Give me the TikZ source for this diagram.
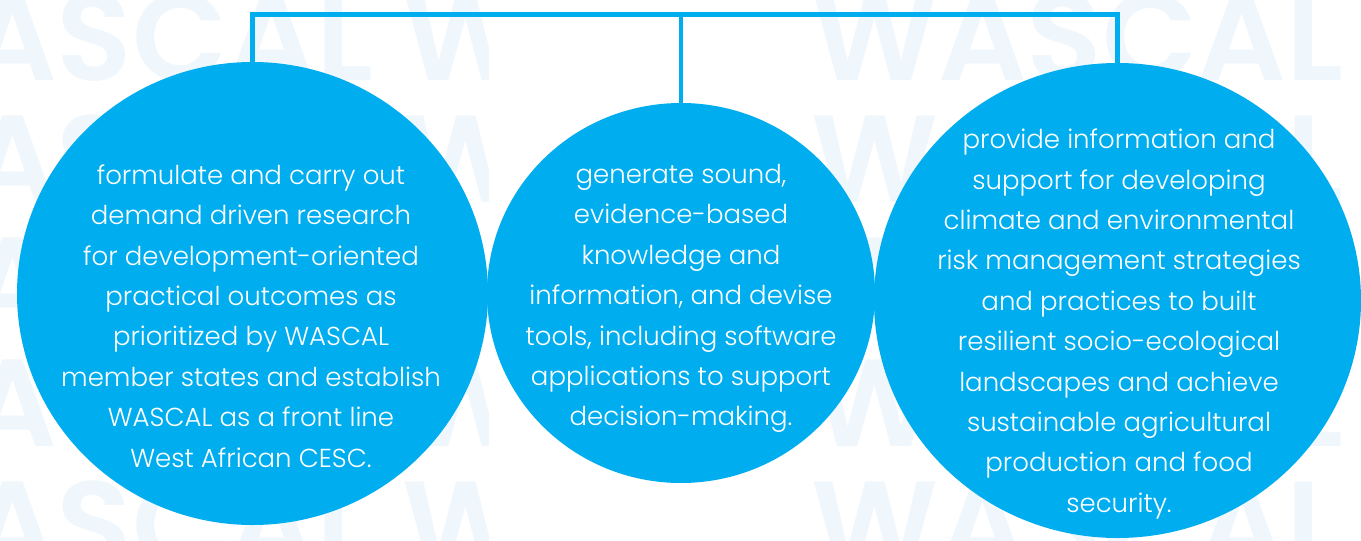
\documentclass[tikz,border=0pt]{standalone}
\usepackage{fontspec}
\usetikzlibrary{shapes.geometric}
\newfontfamily\bodyfont{Poppins Light}
\newfontfamily\wmfont{Poppins SemiBold}
\definecolor{wcyan}{HTML}{00AEEF}
\definecolor{wpale}{HTML}{EFF7FC}
\tikzset{
  bubble/.style={ellipse, fill=wcyan, draw=none, inner sep=0pt},
  conn/.style={draw=wcyan, line width=4.5pt, line join=miter},
  wm/.style={text=wpale, inner sep=0pt, font=\wmfont\fontsize{124}{124}\selectfont},
  txt/.style={text=white, align=center, inner sep=0pt, font=\bodyfont\fontsize{26}{40.4}\selectfont}
}
\begin{document}
\begin{tikzpicture}[x=1pt,y=-1pt]
\useasboundingbox (0,0) rectangle (1361,541);
\fill[white] (0,0) rectangle (1361,541);
% watermark
\begin{scope}
  \clip (0,0) rectangle (488,541);
  \foreach \r in {0,...,4}
    \node[wm, anchor=base west] (wmL\r) at (-159, 80+122*\r) {WASCAL W};
\end{scope}
\foreach \r in {0,...,4}
  \node[wm, anchor=base west] (wmR\r) at (811, 80+122*\r) {WASCAL};
% circles
\node[bubble, minimum width=471pt, minimum height=463pt] (c1) at (252.5,293.5) {};
\node[bubble, minimum width=388pt, minimum height=380pt] (c2) at (681,293) {};
\node[bubble, minimum width=487pt, minimum height=475pt] (c3) at (1117.5,300.5) {};
% connectors
\coordinate (bar) at (0,14.5);
\draw[conn] (c1.north) |- (c3.north |- bar) -- (c3.north);
\draw[conn] (c2.north) -- (c2.north |- bar);
% texts
\node[txt] (t1) at (251,316) {formulate and carry out\\demand driven research\\for development-oriented\\practical outcomes as\\prioritized by WASCAL\\member states and establish\\WASCAL as a front line\\West African CESC.};
\node[txt] (t2) at (681,298.5) {generate sound,\\evidence-based\\knowledge and\\information, and devise\\tools, including software\\applications to support\\decision-making.};
\node[txt] (t3) at (1119,324) {provide information and\\support for developing\\climate and environmental\\risk management strategies\\and practices to built\\resilient socio-ecological\\landscapes and achieve\\sustainable agricultural\\production and food\\security.};
\end{tikzpicture}
\end{document}
